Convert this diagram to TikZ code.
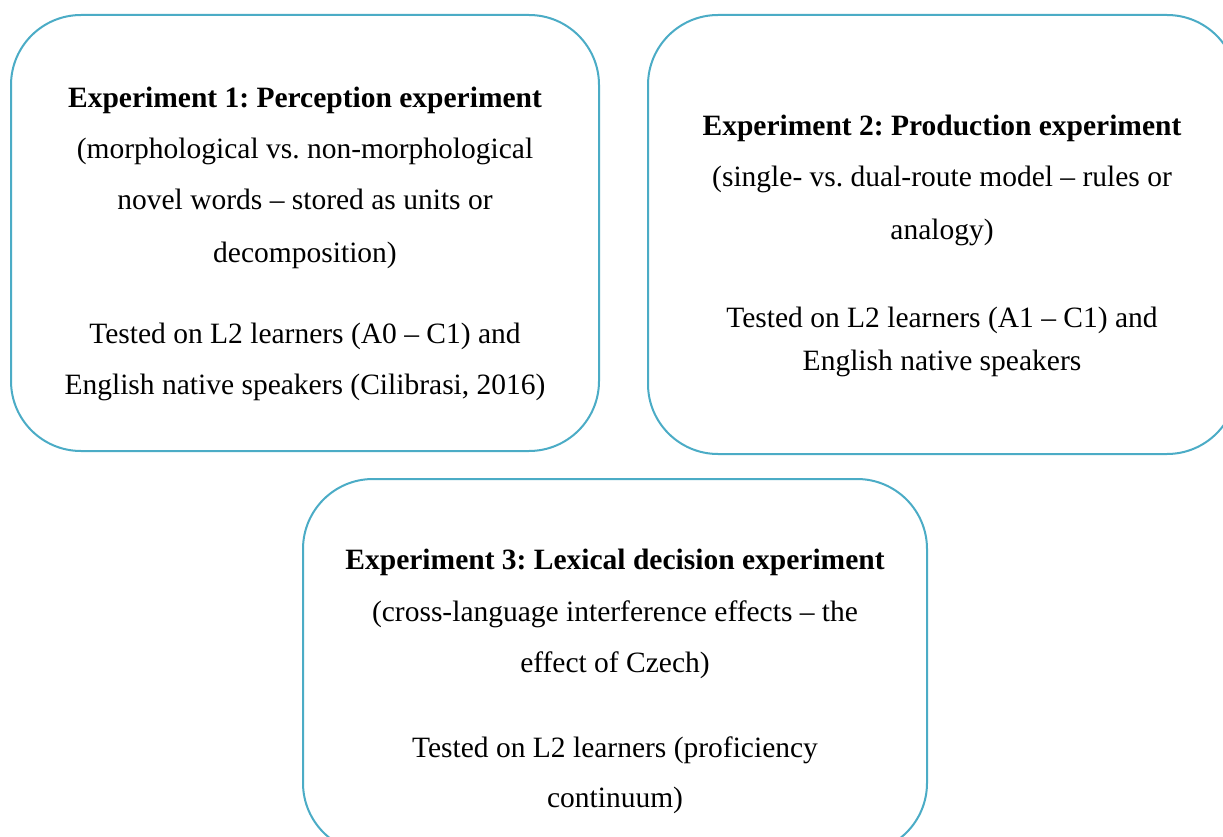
\documentclass[tikz,border=0pt]{standalone}
\usepackage{fontspec}
\setmainfont{Liberation Serif}
\frenchspacing
\definecolor{edge}{HTML}{4BACC6}
\begin{document}
\begin{tikzpicture}[x=1pt,y=-1pt,
  box/.style={draw=edge, line width=2pt, rounded corners=70pt, inner sep=0pt},
  txt/.style={anchor=base, inner sep=0pt, font=\fontsize{29.5}{36}\selectfont},
  bold/.style={anchor=base, inner sep=0pt, font=\fontsize{29.5}{36}\selectfont\bfseries}]
\useasboundingbox (0,0) rectangle (1223,837);
\clip (0,0) rectangle (1223,837);
\fill[white] (0,0) rectangle (1223,837);
% boxes
\node[box, minimum width=588pt, minimum height=436pt] (b1) at (305,233) {};
\node[box, minimum width=589pt, minimum height=439pt] (b2) at (942.5,234.5) {};
\node[box, minimum width=624pt, minimum height=374pt] (b3) at (615,666) {};
% box 1
\node[bold] (t1a) at (305,108) {Experiment 1: Perception experiment};
\node[txt] (t1b) at (305,159) {(morphological vs. non-morphological};
\node[txt] (t1c) at (305,210) {novel words – stored as units or};
\node[txt] (t1d) at (305,262) {decomposition)};
\node[txt] (t1e) at (305,343) {Tested on L2 learners (A0 – C1) and};
\node[txt] (t1f) at (305,394) {English native speakers (Cilibrasi, 2016)};
% box 2
\node[bold] (t2a) at (942,136) {Experiment 2: Production experiment};
\node[txt] (t2b) at (942,187) {(single- vs. dual-route model – rules or};
\node[txt] (t2c) at (942,239) {analogy)};
\node[txt] (t2d) at (942,327) {Tested on L2 learners (A1 – C1) and};
\node[txt] (t2e) at (942,370) {English native speakers};
% box 3
\node[bold] (t3a) at (615,569) {Experiment 3: Lexical decision experiment};
\node[txt] (t3b) at (615,621) {(cross-language interference effects – the};
\node[txt] (t3c) at (615,672) {effect of Czech)};
\node[txt] (t3d) at (615,757) {Tested on L2 learners (proficiency};
\node[txt] (t3e) at (615,807) {continuum)};
\end{tikzpicture}
\end{document}
